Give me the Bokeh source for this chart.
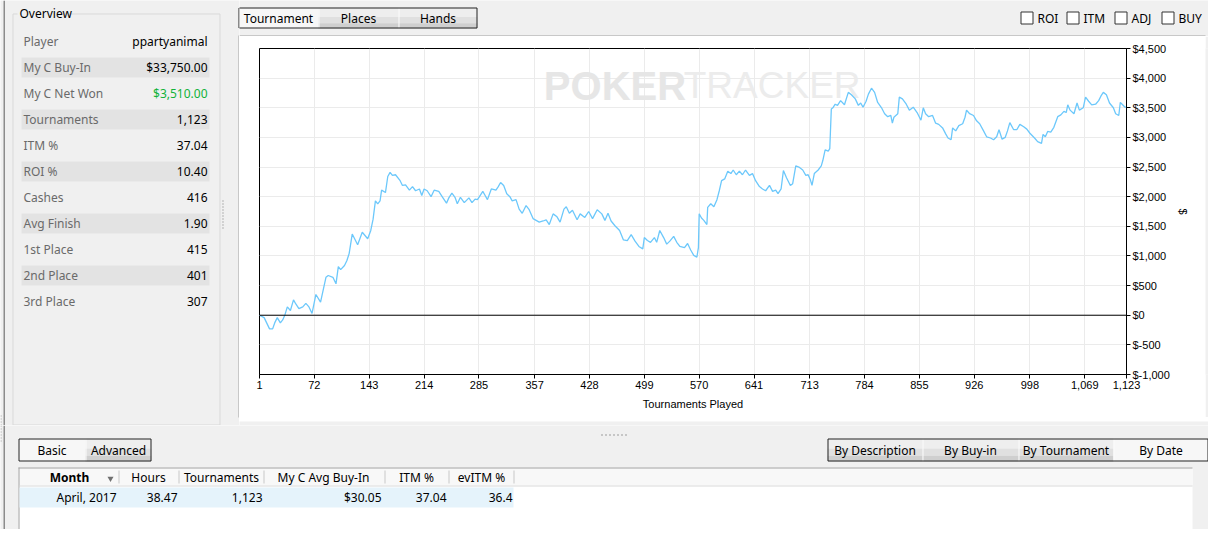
from bokeh.plotting import figure
from bokeh.layouts import column, row
from bokeh.models import Range1d, FixedTicker, NumeralTickFormatter, Span, Label
from bokeh.core.properties import value
from bokeh.embed import file_html
from bokeh.resources import INLINE

# cumulative net won ($) by tournament number
games = [1, 7, 14, 18, 21, 24, 28, 31, 34, 37, 41, 45, 48, 52, 57, 61, 65, 69, 74, 80,
         87, 90, 96, 100, 103, 106, 111, 114, 117, 121, 128, 134, 141, 145, 148, 151, 154, 157, 159, 164,
         167, 170, 173, 177, 183, 186, 190, 195, 199, 203, 208, 211, 214, 218, 223, 227, 233, 238, 243, 246,
         250, 254, 257, 261, 266, 272, 276, 280, 283, 285, 290, 293, 296, 301, 307, 310, 313, 317, 321, 325,
         328, 333, 337, 341, 346, 350, 355, 359, 363, 368, 372, 376, 381, 386, 390, 395, 398, 402, 406, 412,
         416, 422, 427, 432, 438, 444, 448, 452, 456, 461, 467, 472, 477, 482, 487, 492, 497, 499, 503, 507,
         512, 515, 519, 524, 528, 532, 537, 541, 545, 551, 555, 559, 563, 567, 569, 570, 573, 576, 580, 581,
         585, 589, 593, 596, 599, 603, 607, 611, 614, 618, 622, 626, 630, 635, 639, 643, 648, 652, 656, 661,
         665, 669, 672, 676, 679, 683, 688, 691, 695, 699, 704, 708, 711, 714, 716, 719, 724, 728, 730, 733,
         737, 739, 741, 743, 746, 749, 753, 758, 763, 767, 772, 776, 779, 782, 786, 789, 793, 797, 801, 806,
         810, 814, 818, 820, 822, 827, 829, 833, 838, 842, 847, 852, 857, 860, 863, 867, 872, 876, 880, 885,
         889, 892, 896, 898, 902, 906, 911, 914, 916, 920, 925, 929, 933, 938, 942, 947, 951, 955, 958, 962,
         966, 969, 972, 977, 981, 985, 990, 994, 998, 1004, 1008, 1013, 1015, 1018, 1021, 1025, 1029, 1034, 1038, 1042,
         1045, 1047, 1050, 1055, 1059, 1062, 1067, 1070, 1074, 1078, 1083, 1087, 1090, 1093, 1097, 1101, 1106, 1109, 1113, 1115,
         1118, 1121, 1123]
net_won = [0, -40, -230, -230, -120, -40, -130, -80, 10, 140, 80, 260, 190, 110, 140, 200, 140, 30, 350, 220,
           640, 670, 640, 530, 820, 770, 840, 920, 1040, 1370, 1190, 1400, 1290, 1430, 1620, 1930, 1880, 1930, 2110, 2070,
           2340, 2410, 2360, 2370, 2270, 2190, 2200, 2110, 2170, 2100, 2130, 2020, 2130, 2100, 2000, 2110, 2090, 1990, 1890, 1980,
           2060, 1990, 1880, 1990, 1900, 1980, 1900, 1960, 1950, 1990, 2090, 2020, 1950, 2130, 2110, 2170, 2240, 2190, 2050, 2000,
           1930, 1950, 1790, 1720, 1850, 1780, 1630, 1600, 1570, 1590, 1610, 1530, 1710, 1660, 1570, 1790, 1830, 1720, 1770, 1610,
           1710, 1650, 1750, 1630, 1780, 1710, 1600, 1720, 1590, 1510, 1430, 1270, 1260, 1360, 1250, 1160, 1120, 1310, 1260, 1230,
           1310, 1230, 1430, 1310, 1200, 1250, 1330, 1230, 1160, 1140, 1210, 1100, 1010, 980, 1140, 1710, 1640, 1600, 1530, 1820,
           1880, 1830, 1950, 2100, 2270, 2300, 2430, 2390, 2450, 2370, 2430, 2370, 2450, 2360, 2390, 2270, 2170, 2130, 2100, 2190,
           2090, 2110, 2050, 2130, 2440, 2320, 2190, 2220, 2520, 2500, 2450, 2360, 2370, 2280, 2190, 2390, 2450, 2520, 2610, 2790,
           2770, 2810, 3480, 3500, 3560, 3540, 3620, 3550, 3760, 3720, 3650, 3540, 3580, 3510, 3610, 3730, 3830, 3760, 3590, 3500,
           3400, 3350, 3370, 3240, 3340, 3400, 3680, 3650, 3560, 3460, 3510, 3420, 3290, 3500, 3400, 3350, 3370, 3240, 3220, 3160,
           3060, 2990, 2960, 3160, 3110, 3200, 3230, 3340, 3460, 3400, 3370, 3280, 3230, 3110, 3010, 2990, 2960, 3010, 3130, 2970,
           3000, 3110, 3250, 3130, 3130, 3220, 3180, 3140, 3070, 2990, 2930, 2900, 3050, 3010, 3100, 3090, 3170, 3350, 3380, 3440,
           3420, 3550, 3460, 3400, 3580, 3460, 3500, 3680, 3610, 3550, 3560, 3620, 3700, 3760, 3720, 3580, 3500, 3400, 3370, 3590,
           3550, 3510, 3510]

x_ticks = [1, 72, 143, 214, 285, 357, 428, 499, 570, 641, 713, 784, 855, 926, 998, 1069, 1123]
y_ticks = [-1000, -500, 0, 500, 1000, 1500, 2000, 2500, 3000, 3500, 4000, 4500]
y_labels = ["$-1,000", "$-500", "$0", "$500", "$1,000", "$1,500", "$2,000", "$2,500",
            "$3,000", "$3,500", "$4,000", "$4,500"]

overview_labels = ["Player", "My C Buy-In", "My C Net Won", "Tournaments", "ITM %", "ROI %",
                   "Cashes", "Avg Finish", "1st Place", "2nd Place", "3rd Place"]
overview_values = ["ppartyanimal", "$33,750.00", "$3,510.00", "1,123", "37.04", "10.40",
                   "416", "1.90", "415", "401", "307"]

chart_tabs = ["Tournament", "Places", "Hands"]
stat_checks = ["ROI", "ITM", "ADJ", "BUY"]
view_tabs = ["Basic", "Advanced"]
group_tabs = ["By Description", "By Buy-in", "By Tournament", "By Date"]
table_columns = ["Month", "Hours", "Tournaments", "My C Avg Buy-In", "ITM %", "evITM %"]
table_row = ["April, 2017", "38.47", "1,123", "$30.05", "37.04", "36.4"]

BG = "#f0f0f0"
UI = value("Noto Sans")


def chrome(x0, x1, y0, y1, fill=BG):
    # a blank figure whose data units are the screenshot's pixels
    f = figure(width=x1 - x0, height=y1 - y0, x_range=Range1d(x0, x1), y_range=Range1d(y1, y0),
               x_axis_type=None, y_axis_type=None, tools="", toolbar_location=None,
               output_backend="svg", min_border=0, background_fill_color=fill,
               border_fill_color=fill, outline_line_color=None)
    return f


def txt(f, x, y, s, align="left", color="black", size="12px", style="normal"):
    f.text(x=[x], y=[y], text=[s], text_align=align, text_baseline="middle", text_color=color,
           text_font=UI, text_font_size=size, text_font_style=style)


def buttons(f, edges, names, selected, y0, y1):
    h = y1 - y0
    for i, name in enumerate(names):
        l, r = edges[i], edges[i + 1]
        if i == selected:
            f.quad(left=[l], right=[r], top=[y0], bottom=[y1], fill_color="#f7f7f7", line_color=None)
        else:
            f.quad(left=[l], right=[r], top=[y0], bottom=[y0 + h * 0.45], fill_color="#eeeeee", line_color=None)
            f.quad(left=[l], right=[r], top=[y0 + h * 0.45], bottom=[y0 + h * 0.75], fill_color="#e0e0e0", line_color=None)
            f.quad(left=[l], right=[r], top=[y0 + h * 0.75], bottom=[y1], fill_color="#cfcfcf", line_color=None)
        if i > 0:
            f.segment(x0=[l + 0.5], y0=[y0], x1=[l + 0.5], y1=[y1], line_color="#fbfbfb", line_width=1)
        txt(f, (l + r) / 2, (y0 + y1) / 2, name, align="center")
    f.quad(left=[edges[0] + 0.5], right=[edges[-1] - 0.5], top=[y0 + 0.5], bottom=[y1 - 0.5],
           fill_color=None, line_color="#222222", line_width=1)


# ---- left: overview panel
left = chrome(0, 239, 0, 425)
left.segment(x0=[3.75], y0=[0], x1=[3.75], y1=[425], line_color="#8c8c8c", line_width=1.5)
left.segment(x0=[0.5], y0=[415], x1=[0.5], y1=[425], line_color="#8c8c8c", line_dash="1 2")
left.quad(left=[12.5], right=[219.5], top=[13.5], bottom=[424.5], fill_color=None, line_color="#d9d9d9")
left.quad(left=[17], right=[70], top=[6], bottom=[19], fill_color=BG, line_color=None)
txt(left, 19, 13, "Overview")
for i, (lab, val) in enumerate(zip(overview_labels, overview_values)):
    yc = 41 + 26 * i
    if i % 2 == 1:
        left.quad(left=[21], right=[209], top=[yc - 10], bottom=[yc + 10], fill_color="#e3e3e3", line_color=None)
    txt(left, 23, yc, lab, color="#6a6a6a")
    txt(left, 207, yc, val, align="right", color="#12b33a" if lab == "My C Net Won" else "black")
left.segment(x0=[222.5], y0=[200], x1=[222.5], y1=[229], line_color="#777777", line_dash="1 2")
# chart panel left edge and the first button's left edge
left.segment(x0=[238.5], y0=[35], x1=[238.5], y1=[417], line_color="#a0a0a0")
left.segment(x0=[238.5], y0=[7.5], x1=[238.5], y1=[27.5], line_color="#222222")

# ---- top strip: tabs and check boxes
top = chrome(239, 1208, 0, 36)
buttons(top, [238, 318, 398, 477], chart_tabs, 0, 7, 28)
top.segment(x0=[239], y0=[35.5], x1=[1205], y1=[35.5], line_color="#a0a0a0")
for name, bx in zip(stat_checks, [1020, 1066, 1114, 1161]):
    top.quad(left=[bx + 0.5], right=[bx + 12.5], top=[11.5], bottom=[23.5], fill_color="white", line_color="#333333")
    txt(top, bx + 17, 17.5, name)

# ---- chart
chart = figure(width=966, height=381, x_range=Range1d(1, 1123), y_range=Range1d(-1000, 4500),
               y_axis_location="right", tools="", toolbar_location=None, output_backend="svg",
               min_border_left=20, min_border_right=79, min_border_top=12, min_border_bottom=43,
               background_fill_color="white", border_fill_color="white", outline_line_color="black")

chart.add_layout(Label(x=369, y=3870, text="POKER", text_font="Liberation Sans", text_font_style="bold",
                       text_font_size="40px", text_color="#e6e6e6", text_baseline="middle", level="underlay"))
chart.add_layout(Label(x=550, y=3870, text="TRACKER", text_font="Liberation Sans",
                       text_font_size="37px", text_color="#ececec", text_baseline="middle", level="underlay"))

chart.line(games, net_won, line_color="#6cc8fb", line_width=1.3)
chart.add_layout(Span(location=0, dimension="width", line_color="black", line_width=1))

xa = chart.xaxis[0]
xa.ticker = FixedTicker(ticks=x_ticks)
xa.formatter = NumeralTickFormatter(format="0,0")
xa.axis_label = "Tournaments Played"
ya = chart.yaxis[0]
ya.ticker = FixedTicker(ticks=y_ticks)
ya.major_label_overrides = dict(zip(y_ticks, y_labels))
ya.axis_label = "$"
for ax in (xa, ya):
    ax.axis_line_color = "black"
    ax.major_tick_line_color = "black"
    ax.major_tick_in = 0
    ax.major_tick_out = 4
    ax.minor_tick_line_color = None
    ax.major_label_text_font = "Liberation Sans"
    ax.major_label_text_font_size = "11px"
    ax.major_label_text_color = "black"
    ax.axis_label_text_font = "Liberation Sans"
    ax.axis_label_text_font_size = "11px"
    ax.axis_label_text_font_style = "normal"
    ax.axis_label_text_color = "black"
    ax.major_label_standoff = 2
xa.axis_label_standoff = 6
ya.axis_label_standoff = 4

chart.xgrid.ticker = FixedTicker(ticks=x_ticks)
chart.ygrid.ticker = FixedTicker(ticks=y_ticks)
chart.grid.grid_line_color = "#ebebeb"

pad = chrome(1205, 1208, 36, 417)
gap = chrome(239, 1208, 417, 425)

# ---- bottom: view tabs and table
bottom = chrome(0, 1208, 425, 529)
bottom.segment(x0=[3.75], y0=[425], x1=[3.75], y1=[529], line_color="#8c8c8c", line_width=1.5)
bottom.segment(x0=[0.5], y0=[425], x1=[0.5], y1=[443], line_color="#8c8c8c", line_dash="1 2")
bottom.segment(x0=[601], y0=[434.5], x1=[629], y1=[434.5], line_color="#808080", line_dash="1 3", line_width=1.5)
buttons(bottom, [18, 85, 151], view_tabs, 0, 438, 461)
buttons(bottom, [827, 922, 1018, 1113, 1208], group_tabs, 3, 438, 461)

bottom.quad(left=[18], right=[1192], top=[467], bottom=[529], fill_color="white", line_color=None)
bottom.quad(left=[19], right=[1192], top=[468], bottom=[485], fill_color="#f8f8f8", line_color=None)
bottom.segment(x0=[18], y0=[467.5], x1=[1192], y1=[467.5], line_color="#a0a0a0")
bottom.segment(x0=[18.5], y0=[467], x1=[18.5], y1=[529], line_color="#a0a0a0")
bottom.segment(x0=[19], y0=[485.5], x1=[1192], y1=[485.5], line_color="#dadada")
bottom.segment(x0=[118.5, 178.5, 263.5, 384.5, 448.5, 513.5], y0=[470] * 6,
               x1=[118.5, 178.5, 263.5, 384.5, 448.5, 513.5], y1=[483] * 6, line_color="#c8c8c8")
for name, cx in zip(table_columns, [69, 148, 221, 323, 416, 481]):
    txt(bottom, cx, 477, name, align="center", style="bold" if name == "Month" else "normal")
bottom.scatter([110], [478], marker="inverted_triangle", size=6, fill_color="#707070", line_color=None)

bottom.quad(left=[19], right=[513], top=[487], bottom=[507], fill_color="#e5f3fb", line_color=None)
for s, rx in zip(table_row, [116, 177, 262, 381, 446, 512]):
    txt(bottom, rx, 497, s, align="right")

page = column(row(left, column(top, row(chart, pad), gap)), bottom)

open("out.html", "w").write(file_html(page, INLINE))
